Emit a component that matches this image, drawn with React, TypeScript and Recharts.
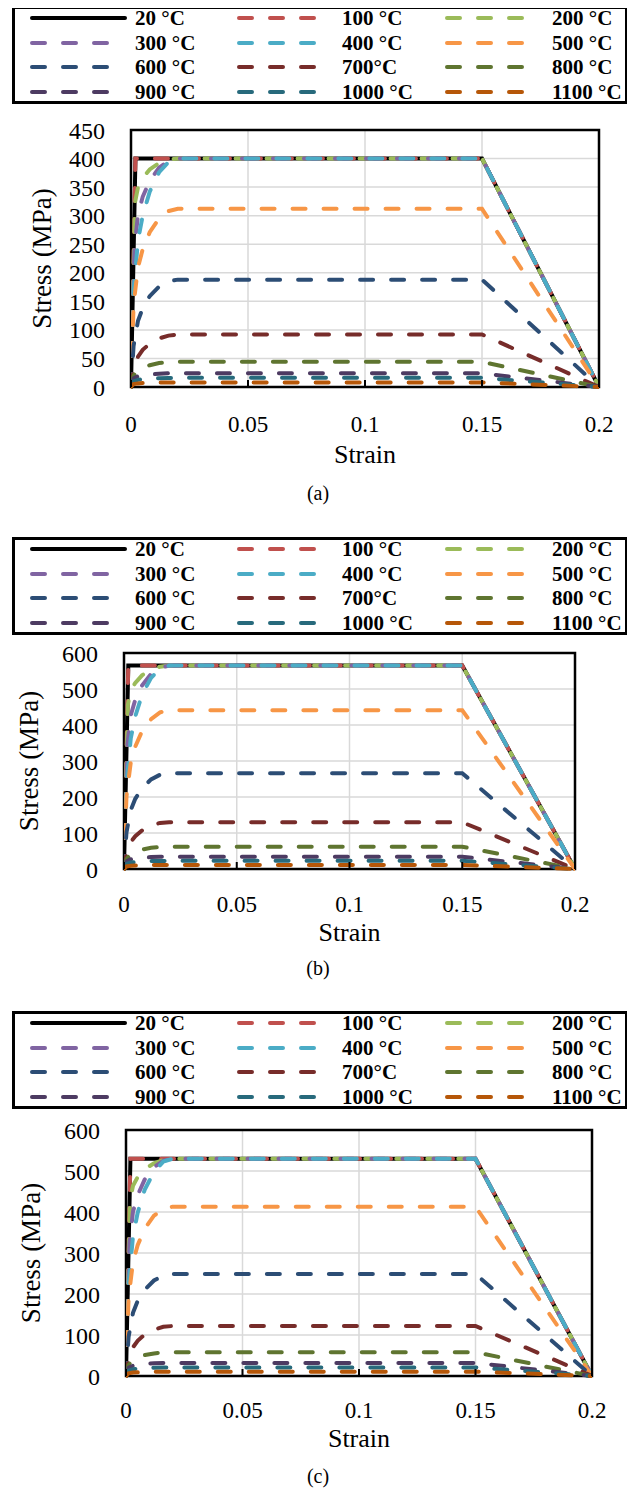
import { LineChart, Line, XAxis, YAxis, CartesianGrid, Legend, ReferenceArea } from 'recharts';

const FONT = '"Liberation Serif", Tinos, "DejaVu Serif", serif';

const temps = ['20 °C', '100 °C', '200 °C', '300 °C', '400 °C', '500 °C', '600 °C', '700°C', '800 °C', '900 °C', '1000 °C', '1100 °C'];
const colors = ['#000000', '#C0504D', '#9BBB59', '#8064A2', '#4BACC6', '#F79646', '#2C4D75', '#772C2A', '#5F7530', '#4D3B62', '#276A7C', '#B65708'];

const xTicks = [0, 0.05, 0.1, 0.15, 0.2];
const yTicksA = [0, 50, 100, 150, 200, 250, 300, 350, 400, 450];
const yTicksBC = [0, 100, 200, 300, 400, 500, 600];

// strain points per curve
const strainsCold = [0, 0.0019, 0.15, 0.2];
const strains200 = [0, 0.0017, 0.003, 0.005, 0.008, 0.012, 0.016, 0.02, 0.15, 0.2];
const strains300 = [0, 0.0015, 0.003, 0.005, 0.008, 0.012, 0.016, 0.02, 0.15, 0.2];
const strainsHot = [0, 0.0011, 0.003, 0.005, 0.008, 0.012, 0.016, 0.02, 0.15, 0.2];
const strainSets = [
  strainsCold, strainsCold, strains200, strains300,
  strainsHot, strainsHot, strainsHot, strainsHot, strainsHot, strainsHot, strainsHot, strainsHot,
];

// stress (MPa), one row per temperature
const stressA = [
  [0, 400, 400, 0],
  [0, 400, 400, 0],
  [0, 323, 350, 366, 381, 392, 398, 400, 400, 0],
  [0, 245, 302, 333, 361, 384, 396, 400, 400, 0],
  [0, 168, 257, 300, 342, 376, 394, 400, 400, 0],
  [0, 144, 210, 241, 271, 295, 308, 312, 312, 0],
  [0, 72, 116, 138, 159, 176, 185, 188, 188, 0],
  [0, 30, 53, 65, 76, 85, 90, 92, 92, 0],
  [0, 20, 30, 34, 38, 42, 43, 44, 44, 0],
  [0, 15, 19, 20, 22, 23, 24, 24, 24, 0],
  [0, 10, 12.5, 13.6, 14.6, 15.4, 15.9, 16, 16, 0],
  [0, 5, 6.3, 6.8, 7.3, 7.7, 7.9, 8, 8, 0],
];

const stressB = [
  [0, 565, 565, 0],
  [0, 565, 565, 0],
  [0, 456, 495, 517, 538, 554, 562, 565, 565, 0],
  [0, 346, 427, 470, 510, 542, 559, 565, 565, 0],
  [0, 237, 363, 424, 484, 531, 557, 565, 565, 0],
  [0, 203, 296, 340, 383, 416, 435, 441, 441, 0],
  [0, 102, 164, 195, 224, 249, 262, 266, 266, 0],
  [0, 42, 75, 91, 107, 121, 128, 130, 130, 0],
  [0, 28, 42, 48, 54, 59, 61, 62, 62, 0],
  [0, 21, 27, 29, 31, 33, 34, 34, 34, 0],
  [0, 14, 18, 19, 21, 22, 22, 23, 23, 0],
  [0, 7, 8.9, 9.6, 10.3, 10.9, 11.2, 11.3, 11.3, 0],
];

const stressC = [
  [0, 530, 530, 0],
  [0, 530, 530, 0],
  [0, 428, 464, 485, 504, 519, 527, 530, 530, 0],
  [0, 325, 401, 441, 479, 509, 525, 530, 530, 0],
  [0, 223, 341, 398, 454, 498, 523, 530, 530, 0],
  [0, 191, 278, 319, 359, 391, 408, 413, 413, 0],
  [0, 95, 154, 183, 210, 233, 245, 249, 249, 0],
  [0, 40, 70, 86, 101, 113, 120, 122, 122, 0],
  [0, 27, 39, 45, 51, 55, 58, 58, 58, 0],
  [0, 20, 25, 27, 29, 31, 32, 32, 32, 0],
  [0, 13, 16.6, 18, 19.3, 20.4, 21, 21, 21, 0],
  [0, 6.6, 8.3, 9, 9.7, 10.2, 10.5, 10.6, 10.6, 0],
];

const DASH = '13 18';
const sampleX = [15, 222, 430];
const labelX = [120, 327, 537];

const LegendBox = () => (
  <div
    style={{
      position: 'relative',
      width: 616,
      height: 98,
      border: '3px solid #000',
      boxSizing: 'border-box',
      background: '#fff',
      fontFamily: FONT,
      fontWeight: 'bold',
      fontSize: 21,
      color: '#000',
    }}
  >
    {temps.map((t, i) => {
      const row = Math.floor(i / 3);
      const col = i % 3;
      const cy = 9 + row * 24.7;
      return (
        <div key={t}>
          <svg style={{ position: 'absolute', left: sampleX[col], top: cy - 5 }} width={100} height={10}>
            <line
              x1={2}
              y1={5}
              x2={i === 0 ? 95 : 79}
              y2={5}
              stroke={colors[i]}
              strokeWidth={4}
              strokeLinecap="round"
              strokeDasharray={i === 0 ? undefined : DASH}
            />
          </svg>
          <span style={{ position: 'absolute', left: labelX[col], top: cy - 12, lineHeight: '24px', whiteSpace: 'nowrap' }}>
            {t}
          </span>
        </div>
      );
    })}
  </div>
);

const YTitle = (props: any) => {
  const vb = props.viewBox || { y: 0, height: 0 };
  const cy = vb.y + vb.height / 2;
  const cx = props.cx;
  return (
    <text
      x={cx}
      y={cy}
      transform={`rotate(-90 ${cx} ${cy})`}
      textAnchor="middle"
      dominantBaseline="central"
      fill="#000"
      fontSize={27}
      style={{ fontFamily: FONT }}
    >
      Stress (MPa)
    </text>
  );
};

type PanelProps = {
  stress: number[][];
  yMax: number;
  yTicks: number[];
  top: number;
  height: number;
  margin: { top: number; right: number; bottom: number; left: number };
  tickGap: number;
  titleOffset: number;
  yTitleX: number;
  caption: string;
  captionTop: number;
};

const Panel = ({ stress, yMax, yTicks, top, height, margin, tickGap, titleOffset, yTitleX, caption, captionTop }: PanelProps) => {
  const series = temps.map((t, i) => ({
    name: t,
    color: colors[i],
    data: strainSets[i].map((s, k) => ({ strain: s, stress: stress[i][k] })),
  }));
  return (
    <>
      <div style={{ position: 'absolute', left: 0, top, fontFamily: FONT }}>
        <LineChart width={627} height={height} margin={margin} style={{ fontFamily: FONT }}>
          <CartesianGrid stroke="#d9d9d9" strokeWidth={1.5} />
          <XAxis
            dataKey="strain"
            type="number"
            domain={[0, 0.2]}
            ticks={xTicks}
            interval={0}
            allowDataOverflow
            height={80}
            axisLine={false}
            tickLine={{ stroke: '#000', strokeWidth: 2 }}
            tickSize={-7}
            tickMargin={tickGap}
            tick={{ fill: '#000', fontSize: 23, style: { fontFamily: FONT } }}
            label={{ value: 'Strain', position: 'insideBottom', offset: titleOffset, fill: '#000', fontSize: 26, style: { fontFamily: FONT } }}
          />
          <YAxis
            type="number"
            domain={[0, yMax]}
            ticks={yTicks}
            interval={0}
            width={100}
            axisLine={false}
            tickLine={false}
            tickSize={0}
            tickMargin={26}
            tick={{ fill: '#000', fontSize: 24, style: { fontFamily: FONT } }}
            label={<YTitle cx={yTitleX} />}
          />
          <Legend
            verticalAlign="top"
            content={() => <LegendBox />}
            wrapperStyle={{ top: 0, left: 4, width: 616, height: 98 }}
          />
          <ReferenceArea x1={0} x2={0.2} y1={0} y2={yMax} fill="none" fillOpacity={0} stroke="#000" strokeWidth={2.5} />
          {series.map((s, i) => (
            <Line
              key={s.name}
              data={s.data}
              dataKey="stress"
              name={s.name}
              type="linear"
              stroke={s.color}
              strokeWidth={4}
              strokeLinecap="round"
              strokeDasharray={i === 0 ? undefined : DASH}
              dot={false}
              activeDot={false}
              isAnimationActive={false}
            />
          ))}
        </LineChart>
      </div>
      <div
        style={{
          position: 'absolute',
          left: 0,
          width: 620,
          top: captionTop - 11,
          lineHeight: '22px',
          textAlign: 'center',
          fontFamily: FONT,
          fontSize: 20,
          color: '#000',
        }}
      >
        {caption}
      </div>
    </>
  );
};

export default function App() {
  return (
    <div style={{ position: 'relative', width: 627, height: 1491 }}>
      <Panel
        stress={stressA}
        yMax={450}
        yTicks={yTicksA}
        top={-2}
        height={466}
        margin={{ top: 26, right: 36, bottom: 5, left: 23 }}
        tickGap={36}
        titleOffset={4}
        yTitleX={34}
        caption="(a)"
        captionTop={485}
      />
      <Panel
        stress={stressB}
        yMax={600}
        yTicks={yTicksBC}
        top={529}
        height={417}
        margin={{ top: 18, right: 60, bottom: 5, left: 16 }}
        tickGap={34}
        titleOffset={8}
        yTitleX={21}
        caption="(b)"
        captionTop={960}
      />
      <Panel
        stress={stressC}
        yMax={600}
        yTicks={yTicksBC}
        top={1003}
        height={450}
        margin={{ top: 21, right: 43, bottom: 5, left: 18 }}
        tickGap={33}
        titleOffset={9}
        yTitleX={23}
        caption="(c)"
        captionTop={1468}
      />
    </div>
  );
}
